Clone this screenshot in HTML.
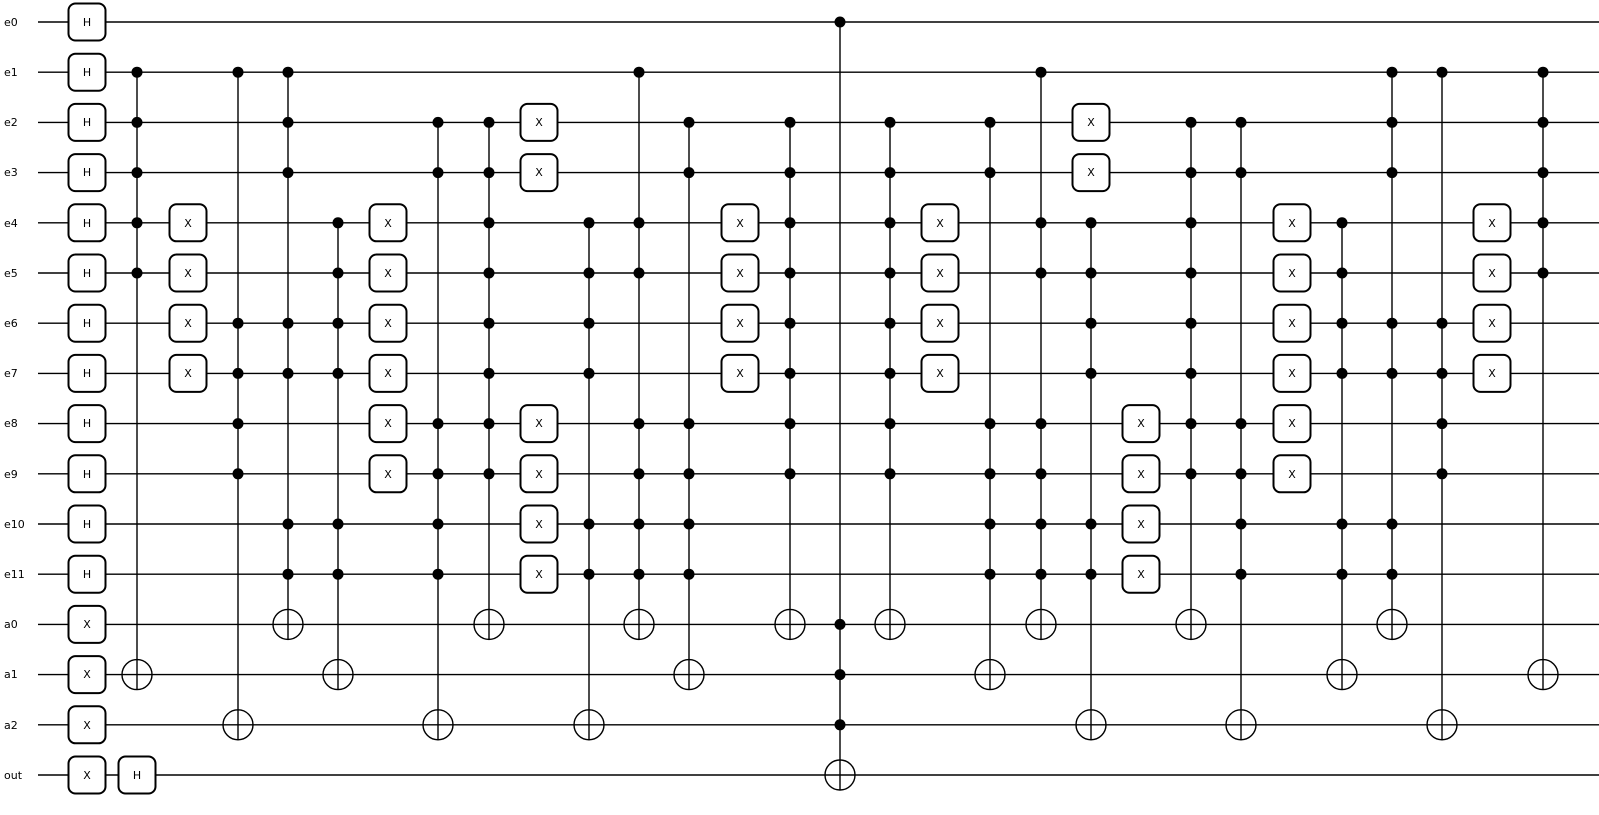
<!DOCTYPE html>
<html><head><meta charset="utf-8"><style>
html,body{margin:0;padding:0;background:#fff;}
svg{display:block;}
text{font-family:"DejaVu Sans","Liberation Sans",sans-serif;font-size:11px;fill:#000;}
</style></head><body>
<svg id="s" width="1599" height="815" viewBox="0 0 1599 815" xmlns="http://www.w3.org/2000/svg">
<g id="wires" stroke="#000" stroke-width="1.4"></g>
<g id="verts" stroke="#000" stroke-width="1.4"></g>
<g id="gates"></g>
<g id="labels" text-anchor="start">
<text x="4" y="26">e0</text><text x="4" y="76">e1</text><text x="4" y="126">e2</text><text x="4" y="176">e3</text>
<text x="4" y="227">e4</text><text x="4" y="277">e5</text><text x="4" y="327">e6</text><text x="4" y="377">e7</text>
<text x="4" y="427">e8</text><text x="4" y="478">e9</text><text x="4" y="528">e10</text><text x="4" y="578">e11</text>
<text x="4" y="628">a0</text><text x="4" y="678">a1</text><text x="4" y="729">a2</text><text x="4" y="779">out</text>
</g>
<g id="gtext" text-anchor="middle">
<text x="87" y="26">H</text><text x="87" y="76">H</text><text x="87" y="126">H</text><text x="87" y="176">H</text>
<text x="87" y="227">H</text><text x="87" y="277">H</text><text x="87" y="327">H</text><text x="87" y="377">H</text>
<text x="87" y="427">H</text><text x="87" y="478">H</text><text x="87" y="528">H</text><text x="87" y="578">H</text>
<text x="87" y="628">X</text><text x="87" y="678">X</text><text x="87" y="729">X</text><text x="87" y="779">X</text>
<text x="137" y="779">H</text>
<text x="188" y="227">X</text><text x="188" y="277">X</text><text x="188" y="327">X</text><text x="188" y="377">X</text>
<text x="388" y="227">X</text><text x="388" y="277">X</text><text x="388" y="327">X</text><text x="388" y="377">X</text><text x="388" y="427">X</text><text x="388" y="478">X</text>
<text x="539" y="126">X</text><text x="539" y="176">X</text><text x="539" y="427">X</text><text x="539" y="478">X</text><text x="539" y="528">X</text><text x="539" y="578">X</text>
<text x="740" y="227">X</text><text x="740" y="277">X</text><text x="740" y="327">X</text><text x="740" y="377">X</text>
<text x="940" y="227">X</text><text x="940" y="277">X</text><text x="940" y="327">X</text><text x="940" y="377">X</text>
<text x="1091" y="126">X</text><text x="1091" y="176">X</text>
<text x="1141" y="427">X</text><text x="1141" y="478">X</text><text x="1141" y="528">X</text><text x="1141" y="578">X</text>
<text x="1292" y="227">X</text><text x="1292" y="277">X</text><text x="1292" y="327">X</text><text x="1292" y="377">X</text><text x="1292" y="427">X</text><text x="1292" y="478">X</text>
<text x="1492" y="227">X</text><text x="1492" y="277">X</text><text x="1492" y="327">X</text><text x="1492" y="377">X</text>
</g>
</svg>
<script>
var NS="http://www.w3.org/2000/svg";
function Y(i){return 22+i*50.2;}
function el(p,t,a){var e=document.createElementNS(NS,t);for(var k in a)e.setAttribute(k,a[k]);document.getElementById(p).appendChild(e);}
for(var i=0;i<16;i++)el("wires","line",{x1:38,x2:1599,y1:Y(i),y2:Y(i)});
var boxes=[[87,[0,1,2,3,4,5,6,7,8,9,10,11,12,13,14,15]],[137,[15]],[188,[4,5,6,7]],[388,[4,5,6,7,8,9]],[539,[2,3,8,9,10,11]],[740,[4,5,6,7]],[940,[4,5,6,7]],[1091,[2,3]],[1141,[8,9,10,11]],[1292,[4,5,6,7,8,9]],[1492,[4,5,6,7]]];
boxes.forEach(function(b){b[1].forEach(function(r){el("gates","rect",{x:b[0]-18.5,y:Y(r)-18.5,width:37,height:37,rx:7,fill:"#fff",stroke:"#000","stroke-width":2});});});
var C=[[137,[1,2,3,4,5],13],[238,[1,6,7,8,9],14],[288,[1,2,3,6,7,10,11],12],[338,[4,5,6,7,10,11],13],
[438,[2,3,8,9,10,11],14],[489,[2,3,4,5,6,7,8,9],12],[589,[4,5,6,7,10,11],14],[639,[1,4,5,8,9,10,11],12],
[689,[2,3,8,9,10,11],13],[790,[2,3,4,5,6,7,8,9],12],[840,[0,12,13,14],15],[890,[2,3,4,5,6,7,8,9],12],
[990,[2,3,8,9,10,11],13],[1041,[1,4,5,8,9,10,11],12],[1091,[4,5,6,7,10,11],14],[1191,[2,3,4,5,6,7,8,9],12],
[1241,[2,3,8,9,10,11],14],[1342,[4,5,6,7,10,11],13],[1392,[1,2,3,6,7,10,11],12],[1442,[1,6,7,8,9],14],[1543,[1,2,3,4,5],13]];
C.forEach(function(c){var x=c[0],t=Y(c[2]),top=Y(c[1][0]);
el("verts","line",{x1:x,x2:x,y1:top,y2:t});
c[1].forEach(function(r){el("gates","circle",{cx:x,cy:Y(r),r:5.5,fill:"#000"});});
el("gates","circle",{cx:x,cy:t,r:15,fill:"#fff",stroke:"#000","stroke-width":1.4});
el("gates","line",{x1:x-15,x2:x+15,y1:t,y2:t,stroke:"#000","stroke-width":1.4});
el("gates","line",{x1:x,x2:x,y1:t-15,y2:t+15,stroke:"#000","stroke-width":1.4});
});
</script>
</body></html>
